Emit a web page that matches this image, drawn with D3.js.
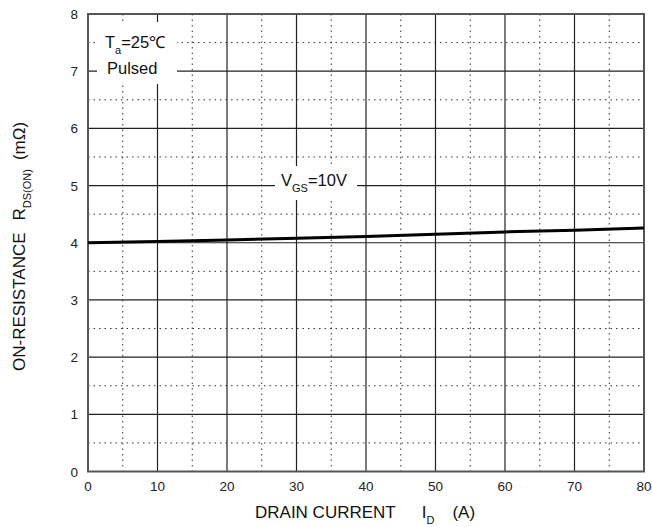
<!DOCTYPE html>
<html>
<head>
<meta charset="UTF-8">
<title>On-resistance vs drain current</title>
<script src="https://d3js.org/d3.v7.min.js"></script>
<style>
  body { margin: 0; background: #fff; }
  svg { display: block; font-family: "Liberation Sans", Arial, sans-serif; }
</style>
</head>
<body>
<svg></svg>
<script>
  // data
  let current = [0, 10, 20, 30, 40, 50, 60, 70, 80];
  let resistance = [4.00, 4.02, 4.05, 4.08, 4.11, 4.15, 4.19, 4.22, 4.26];
  let xTicks = [0, 10, 20, 30, 40, 50, 60, 70, 80];
  let yTicks = [0, 1, 2, 3, 4, 5, 6, 7, 8];
  let xMinor = [5, 15, 25, 35, 45, 55, 65, 75];
  let yMinor = [0.5, 1.5, 2.5, 3.5, 4.5, 5.5, 6.5, 7.5];

  let width = 652, height = 527;
  let svg = d3.select("svg").attr("width", width).attr("height", height);

  let x = d3.scaleLinear().domain([0, 80]).range([88, 644]);
  let y = d3.scaleLinear().domain([0, 8]).range([471.5, 14]);

  // minor dotted grid
  svg.append("g").selectAll("line").data(xMinor).enter().append("line")
    .attr("x1", d => x(d)).attr("x2", d => x(d))
    .attr("y1", y(8)).attr("y2", y(0))
    .attr("stroke", "#333").attr("stroke-width", 1)
    .attr("stroke-dasharray", "1.5,4");
  svg.append("g").selectAll("line").data(yMinor).enter().append("line")
    .attr("x1", x(0)).attr("x2", x(80))
    .attr("y1", d => y(d)).attr("y2", d => y(d))
    .attr("stroke", "#333").attr("stroke-width", 1)
    .attr("stroke-dasharray", "1.5,4");

  // major solid grid
  svg.append("g").selectAll("line").data(xTicks.slice(1, -1)).enter().append("line")
    .attr("x1", d => x(d)).attr("x2", d => x(d))
    .attr("y1", y(8)).attr("y2", y(0))
    .attr("stroke", "#222").attr("stroke-width", 1.2);
  svg.append("g").selectAll("line").data(yTicks.slice(1, -1)).enter().append("line")
    .attr("x1", x(0)).attr("x2", x(80))
    .attr("y1", d => y(d)).attr("y2", d => y(d))
    .attr("stroke", "#222").attr("stroke-width", 1.2);

  // frame
  svg.append("rect")
    .attr("x", x(0)).attr("y", y(8))
    .attr("width", x(80) - x(0)).attr("height", y(0) - y(8))
    .attr("fill", "none").attr("stroke", "#555").attr("stroke-width", 2);

  // annotation boxes
  svg.append("rect").attr("x", 97).attr("y", 22).attr("width", 80).attr("height", 62).attr("fill", "#fff");
  let ta = svg.append("text").attr("x", 105).attr("y", 48).attr("font-size", 16.5).attr("fill", "#111");
  ta.append("tspan").text("T");
  ta.append("tspan").attr("font-size", 11).attr("dy", 6).text("a");
  ta.append("tspan").attr("dy", -6).text("=25℃");
  svg.append("text").attr("x", 107).attr("y", 74).attr("font-size", 16.5).attr("fill", "#111").text("Pulsed");

  svg.append("rect").attr("x", 275).attr("y", 166).attr("width", 82).attr("height", 34).attr("fill", "#fff");
  let vg = svg.append("text").attr("x", 281).attr("y", 186).attr("font-size", 16.5).attr("fill", "#111");
  vg.append("tspan").text("V");
  vg.append("tspan").attr("font-size", 11).attr("dy", 6).text("GS");
  vg.append("tspan").attr("dy", -6).text("=10V");

  // curve
  let line = d3.line().x((d, i) => x(current[i])).y(d => y(d));
  svg.append("path").datum(resistance)
    .attr("d", line).attr("fill", "none")
    .attr("stroke", "#000").attr("stroke-width", 3);

  // tick labels
  svg.append("g").selectAll("text").data(yTicks).enter().append("text")
    .attr("x", 78).attr("y", d => y(d) + 5)
    .attr("text-anchor", "end").attr("font-size", 13.5).attr("fill", "#222")
    .text(d => d);
  svg.append("g").selectAll("text").data(xTicks).enter().append("text")
    .attr("x", d => x(d)).attr("y", 491)
    .attr("text-anchor", "middle").attr("font-size", 13.5).attr("fill", "#222")
    .text(d => d);

  // axis titles
  let xt = svg.append("text").attr("x", 255).attr("y", 518).attr("font-size", 17).attr("fill", "#111");
  xt.append("tspan").text("DRAIN CURRENT");
  xt.append("tspan").attr("dx", 26).text("I");
  xt.append("tspan").attr("font-size", 11).attr("dy", 6).text("D");
  xt.append("tspan").attr("dx", 18).attr("dy", -6).text("(A)");

  let yt = svg.append("text").attr("transform", "translate(25,371) rotate(-90)")
    .attr("font-size", 17).attr("fill", "#111");
  yt.append("tspan").text("ON-RESISTANCE");
  yt.append("tspan").attr("dx", 12).text("R");
  yt.append("tspan").attr("font-size", 11).attr("dy", 6).text("DS(ON)");
  yt.append("tspan").attr("dx", 9).attr("dy", -6).text("(mΩ)");
</script>
</body>
</html>
